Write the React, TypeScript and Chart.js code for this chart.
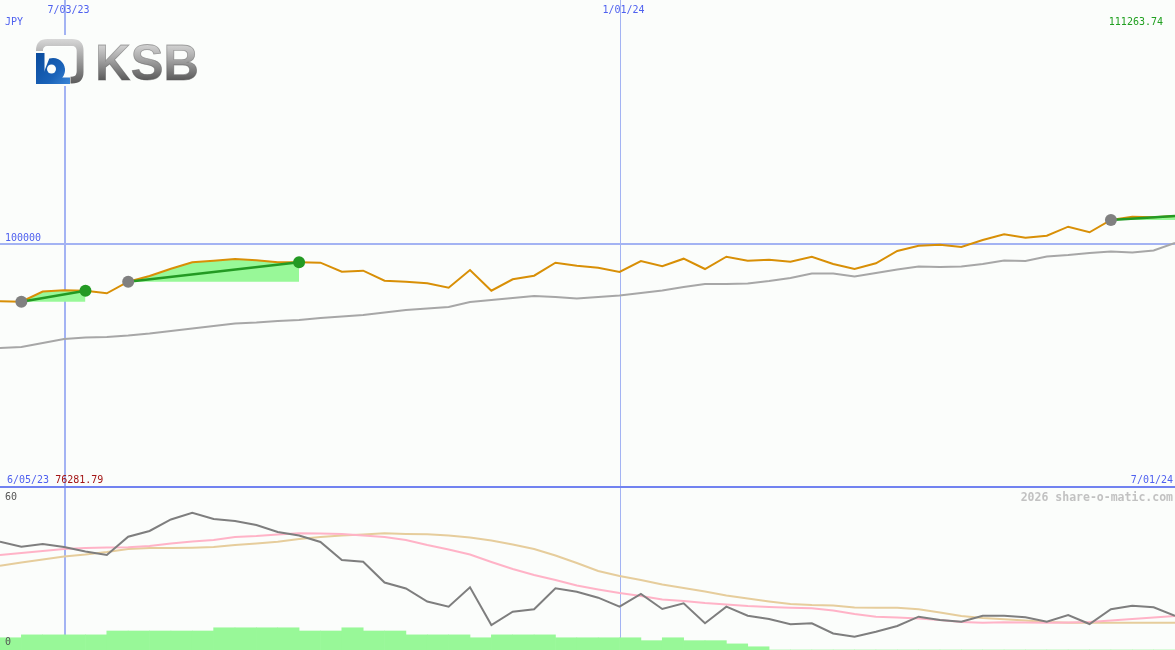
import React, { useEffect, useRef } from 'react';
import { Chart, registerables } from 'chart.js';

Chart.register(...registerables);

// ---------- text / axis data ----------
const CURRENCY = 'JPY';
const START_DATE = '6/05/23';
const END_DATE = '7/01/24';
const DATE_GRID_POS = [3.04, 29.02]; // in week units
const DATE_GRID_LABELS = ['7/03/23', '1/01/24'];
const PRICE_GRID = [100000];
const PRICE_MIN = 0;
const PRICE_MAX = 200000;
const IND_MIN = 0;
const IND_MAX = 60;
const IND_TICKS = [60, 0];
const VOL_MAX = 50;
const WATERMARK = '2026 share-o-matic.com';
const LOGO_TEXT = 'KSB';

// ---------- series data (weekly) ----------
const price = [
  76281.79, 76099, 80288, 80781, 80616, 79549, 84313, 86653, 89652, 92280,
  92937, 93635, 93101, 92280, 92280, 92116, 88419, 88830, 84723, 84313,
  83654, 81848, 89118, 80616, 85298, 86777, 92116, 90884, 90062, 88296,
  92814, 90637, 93758, 89528, 94580, 92937, 93348, 92526, 94580, 91582,
  89528, 91869, 96920, 99097, 99508, 98563, 101438, 103779, 102383, 103204,
  106900, 104600, 109652, 111006, 110760, 111263.74,
];
const average = [
  57085, 57495, 59138, 60781, 61397, 61602, 62218, 63039, 64066, 65093,
  66119, 67146, 67557, 68173, 68584, 69405, 70021, 70637, 71664, 72690,
  73306, 73922, 75976, 76797, 77619, 78440, 78029, 77413, 78029, 78645,
  79672, 80699, 82136, 83368, 83368, 83573, 84600, 85832, 87680, 87680,
  86448, 87886, 89323, 90555, 90350, 90555, 91582, 93019, 92814, 94662,
  95278, 96099, 96715, 96304, 97126, 100206,
];
const trendStart = [1, 6, 52];
const trendEnd = [4, 14, 55];

const oscillator = [
  40.36, 38.5, 39.5, 38.39, 36.71, 35.41, 42.23, 44.35, 48.64, 51.17,
  48.82, 48.08, 46.59, 43.98, 42.67, 40.25, 33.54, 32.91, 25.16, 22.92,
  18.08, 16.14, 23.37, 9.32, 14.27, 15.17, 23.0, 21.73, 19.49, 16.14,
  20.87, 15.28, 17.4, 9.95, 16.14, 12.78, 11.55, 9.58, 9.95, 6.15,
  4.96, 6.82, 8.94, 12.41, 11.18, 10.55, 12.78, 12.78, 12.19, 10.55,
  13.04, 9.69, 15.17, 16.51, 15.91, 12.78,
];
const oscFast = [
  35.41, 36.15, 36.9, 37.64, 38.01, 38.2, 38.28, 38.76, 39.69, 40.44,
  41.0, 42.11, 42.49, 43.05, 43.49, 43.42, 43.23, 42.67, 42.11, 41.0,
  39.13, 37.46, 35.59, 32.8, 30.19, 27.95, 26.09, 24.04, 22.55, 21.24,
  20.13, 18.82, 18.26, 17.52, 16.96, 16.4, 16.03, 15.76, 15.54, 14.72,
  13.42, 12.41, 12.11, 11.74, 11.18, 10.44, 10.17, 10.32, 10.25, 10.17,
  10.25, 10.44, 10.99, 11.55, 12.11, 12.67,
];
const oscSlow = [
  31.42, 32.61, 33.73, 34.85, 35.59, 36.52, 37.64, 38.01, 38.01, 38.13,
  38.39, 39.13, 39.69, 40.36, 41.37, 42.11, 42.67, 43.05, 43.49, 43.23,
  43.12, 42.67, 41.93, 40.81, 39.32, 37.64, 35.22, 32.42, 29.44, 27.58,
  26.09, 24.41, 23.11, 21.8, 20.31, 19.19, 18.08, 17.14, 16.77, 16.58,
  15.84, 15.76, 15.76, 15.17, 13.98, 12.67, 11.93, 11.44, 10.99, 10.44,
  10.17, 10.17, 10.17, 10.17, 10.17, 10.17,
];
const volume = [
  3.8, 4.7, 4.7, 4.7, 4.7, 5.9, 5.9, 5.9, 5.9, 5.9,
  6.9, 6.9, 6.9, 6.9, 5.9, 5.9, 6.9, 5.9, 5.9, 4.7,
  4.7, 4.7, 3.8, 4.7, 4.7, 4.7, 3.8, 3.8, 3.8, 3.8,
  2.9, 3.8, 2.9, 2.9, 1.9, 1.0, 0, 0, 0, 0,
  0, 0, 0, 0, 0, 0, 0, 0, 0, 0,
  0, 0, 0, 0, 0,
];

// ---------- styles ----------
const W = 1175;
const TOP_H = 489;
const BOT_H = 161;
const BG = '#fbfdfb';
const GRID = '#a3b3f3';
const SEP = '#7182f0';
const GRID_W = [2, 1];
const BLUE_TXT = '#4f61ef';
const MONO = '"DejaVu Sans Mono", monospace';

const pts = (arr: number[]) => arr.map((v, i) => ({ x: i, y: v }));

function roundRect(ctx: CanvasRenderingContext2D, x: number, y: number, w: number, h: number, r: number) {
  ctx.beginPath();
  ctx.moveTo(x + r, y);
  ctx.lineTo(x + w - r, y);
  ctx.quadraticCurveTo(x + w, y, x + w, y + r);
  ctx.lineTo(x + w, y + h - r);
  ctx.quadraticCurveTo(x + w, y + h, x + w - r, y + h);
  ctx.lineTo(x + r, y + h);
  ctx.quadraticCurveTo(x, y + h, x, y + h - r);
  ctx.lineTo(x, y + r);
  ctx.quadraticCurveTo(x, y, x + r, y);
  ctx.closePath();
}

function drawLogo(ctx: CanvasRenderingContext2D) {
  ctx.save();
  ctx.fillStyle = BG;
  ctx.fillRect(33, 35, 168, 51);
  // frame
  const g = ctx.createLinearGradient(0, 39, 0, 84);
  g.addColorStop(0, '#d8d8d8');
  g.addColorStop(0.5, '#9a9a9a');
  g.addColorStop(1, '#5a5a5a');
  ctx.strokeStyle = g;
  ctx.lineWidth = 7;
  roundRect(ctx, 39.5, 42.5, 40.5, 37.5, 8);
  ctx.stroke();
  ctx.strokeStyle = 'rgba(255,255,255,0.75)';
  ctx.lineWidth = 1;
  roundRect(ctx, 43.5, 46.5, 32.5, 29.5, 5);
  ctx.stroke();
  // clear bottom-left for the "b"
  ctx.fillStyle = BG;
  ctx.fillRect(34, 51, 36.5, 35);
  // blue b
  const b = ctx.createLinearGradient(36, 55, 70, 84);
  b.addColorStop(0, '#0a4c9e');
  b.addColorStop(0.6, '#1a62b8');
  b.addColorStop(1, '#3a86d6');
  ctx.fillStyle = b;
  ctx.fillRect(36, 53, 8.5, 31);
  ctx.beginPath();
  ctx.arc(53, 70, 12, -Math.PI * 0.6, Math.PI * 0.5);
  ctx.lineTo(40, 82);
  ctx.closePath();
  ctx.fill();
  ctx.fillRect(36, 77.5, 34, 6.5);
  ctx.fillStyle = BG;
  ctx.beginPath();
  ctx.arc(51.5, 69, 4.5, 0, Math.PI * 2);
  ctx.fill();
  // KSB letters
  ctx.font = 'bold 50px "Liberation Sans", Arial, sans-serif';
  const m = ctx.measureText(LOGO_TEXT);
  const ink = m.actualBoundingBoxRight + m.actualBoundingBoxLeft;
  const sx = 98.4 / ink;
  ctx.translate(98.3 + m.actualBoundingBoxLeft * sx, 79.5);
  ctx.scale(sx, 1);
  const tg = ctx.createLinearGradient(0, -37, 0, 0);
  tg.addColorStop(0, '#dadada');
  tg.addColorStop(0.45, '#a6a6a6');
  tg.addColorStop(1, '#5c5c5c');
  ctx.fillStyle = tg;
  ctx.textBaseline = 'alphabetic';
  ctx.fillText(LOGO_TEXT, 0, 0);
  ctx.strokeStyle = 'rgba(90,90,90,0.5)';
  ctx.lineWidth = 0.8;
  ctx.strokeText(LOGO_TEXT, 0, 0);
  ctx.restore();
}

const bgPlugin = {
  id: 'bgFill',
  beforeDraw(chart: any) {
    const { ctx, width, height } = chart;
    ctx.save();
    ctx.fillStyle = BG;
    ctx.fillRect(0, 0, width, height);
    ctx.restore();
  },
};

const topGridPlugin = {
  id: 'topGrid',
  beforeDatasetsDraw(chart: any) {
    const { ctx, width, scales } = chart;
    const { x, y } = scales;
    ctx.save();
    ctx.fillStyle = GRID;
    PRICE_GRID.forEach((v) => {
      const py = Math.round(y.getPixelForValue(v));
      ctx.fillRect(0, py - 1, width, 2);
    });
    DATE_GRID_POS.forEach((v, k) => {
      const px = Math.round(x.getPixelForValue(v));
      const w = GRID_W[k];
      ctx.fillRect(px - Math.floor(w / 2), 0, w, chart.height);
    });
    ctx.restore();
  },
  afterDraw(chart: any) {
    const { ctx, width, scales } = chart;
    const { x, y } = scales;
    ctx.save();
    drawLogo(ctx);
    ctx.font = '10px ' + MONO;
    ctx.textBaseline = 'alphabetic';
    ctx.fillStyle = BLUE_TXT;
    ctx.textAlign = 'center';
    DATE_GRID_POS.forEach((v, k) => {
      const px = Math.round(x.getPixelForValue(v));
      ctx.fillText(DATE_GRID_LABELS[k], px + 3.5, 12.5);
    });
    ctx.textAlign = 'left';
    ctx.fillText(CURRENCY, 5, 25);
    PRICE_GRID.forEach((v) => {
      const py = Math.round(y.getPixelForValue(v));
      ctx.fillText(String(v), 5, py - 3);
    });
    ctx.fillText(START_DATE, 7, 482.5);
    const sw = ctx.measureText(START_DATE + ' ').width;
    ctx.fillStyle = '#a31515';
    ctx.fillText(price[0].toFixed(2), 7 + sw, 482.5);
    ctx.textAlign = 'right';
    ctx.fillStyle = BLUE_TXT;
    ctx.fillText(END_DATE, 1173, 482.5);
    ctx.fillStyle = '#20a020';
    ctx.fillText(price[price.length - 1].toFixed(2), 1163, 25);
    // separator
    ctx.fillStyle = SEP;
    ctx.fillRect(0, 486, width, 2);
    ctx.restore();
  },
};

const botPlugin = {
  id: 'botGrid',
  beforeDatasetsDraw(chart: any) {
    const { ctx, scales } = chart;
    const { x } = scales;
    ctx.save();
    ctx.fillStyle = GRID;
    DATE_GRID_POS.forEach((v, k) => {
      const px = Math.round(x.getPixelForValue(v));
      const w = GRID_W[k];
      ctx.fillRect(px - Math.floor(w / 2), 0, w, chart.height);
    });
    ctx.restore();
  },
  afterDraw(chart: any) {
    const { ctx } = chart;
    ctx.save();
    ctx.font = '10px ' + MONO;
    ctx.fillStyle = '#555555';
    ctx.textAlign = 'left';
    ctx.textBaseline = 'alphabetic';
    ctx.fillText(String(IND_TICKS[0]), 5, 10.5);
    ctx.fillText(String(IND_TICKS[1]), 5, 156);
    ctx.font = 'bold 11.5px ' + MONO;
    ctx.fillStyle = '#c2c2c2';
    ctx.textAlign = 'right';
    ctx.fillText(WATERMARK, 1173, 11.5);
    ctx.restore();
  },
};

export default function App() {
  const topRef = useRef<HTMLCanvasElement>(null);
  const botRef = useRef<HTMLCanvasElement>(null);

  useEffect(() => {
    const last = price.length - 1;
    const topDatasets: any[] = [];
    trendStart.forEach((s, k) => {
      const e = trendEnd[k];
      topDatasets.push({
        data: price.slice(s, e + 1).map((v, j) => ({ x: s + j, y: v })),
        borderWidth: 0,
        borderColor: 'rgba(0,0,0,0)',
        pointRadius: 0,
        fill: { value: price[s] },
        backgroundColor: '#98f898',
        order: 10,
      });
    });
    topDatasets.push({
      data: pts(average),
      borderColor: '#a7a7a7',
      borderWidth: 2,
      pointRadius: 0,
      fill: false,
      order: 9,
    });
    topDatasets.push({
      data: pts(price),
      borderColor: '#d88f06',
      borderWidth: 2,
      pointRadius: 0,
      fill: false,
      order: 8,
    });
    trendStart.forEach((s, k) => {
      const e = trendEnd[k];
      topDatasets.push({
        data: [
          { x: s, y: price[s] },
          { x: e, y: price[e] },
        ],
        borderColor: '#239a23',
        borderWidth: 2.5,
        pointRadius: 0,
        fill: false,
        order: 7,
      });
    });
    topDatasets.push({
      data: trendStart.map((s) => ({ x: s, y: price[s] })),
      showLine: false,
      pointRadius: 6,
      pointBorderWidth: 0,
      pointBackgroundColor: '#808080',
      order: 6,
    });
    topDatasets.push({
      data: trendEnd.filter((e) => e < last).map((e) => ({ x: e, y: price[e] })),
      showLine: false,
      pointRadius: 6,
      pointBorderWidth: 0,
      pointBackgroundColor: '#239a23',
      order: 5,
    });

    const top = new Chart(topRef.current as HTMLCanvasElement, {
      type: 'line',
      data: { datasets: topDatasets },
      options: {
        responsive: false,
        animation: false,
        events: [],
        devicePixelRatio: 1,
        layout: { autoPadding: false, padding: { left: 0, right: 0, top: 0, bottom: 2 } },
        plugins: { legend: { display: false }, tooltip: { enabled: false } },
        elements: { line: { tension: 0 } },
        scales: {
          x: { type: 'linear', min: 0, max: last, display: false, offset: false },
          y: { type: 'linear', min: PRICE_MIN, max: PRICE_MAX, display: false },
        },
      } as any,
      plugins: [bgPlugin, topGridPlugin],
    });

    const bot = new Chart(botRef.current as HTMLCanvasElement, {
      type: 'line',
      data: {
        datasets: [
          {
            type: 'bar',
            data: volume.map((v, i) => ({ x: i + 0.5, y: v })),
            backgroundColor: '#98f898',
            borderWidth: 0,
            barPercentage: 1,
            categoryPercentage: 1,
            yAxisID: 'yv',
            order: 10,
          } as any,
          {
            data: pts(oscSlow),
            borderColor: '#e6cd9c',
            borderWidth: 2,
            pointRadius: 0,
            fill: false,
            order: 9,
          },
          {
            data: pts(oscFast),
            borderColor: '#ffb3c7',
            borderWidth: 2,
            pointRadius: 0,
            fill: false,
            order: 8,
          },
          {
            data: pts(oscillator),
            borderColor: '#7e7e7e',
            borderWidth: 2,
            pointRadius: 0,
            fill: false,
            order: 7,
          },
        ],
      },
      options: {
        responsive: false,
        animation: false,
        events: [],
        devicePixelRatio: 1,
        layout: { autoPadding: false, padding: 0 },
        plugins: { legend: { display: false }, tooltip: { enabled: false } },
        elements: { line: { tension: 0 } },
        scales: {
          x: { type: 'linear', min: 0, max: last, display: false, offset: false },
          y: { type: 'linear', min: IND_MIN, max: IND_MAX, display: false },
          yv: { type: 'linear', min: 0, max: VOL_MAX, display: false },
        },
      } as any,
      plugins: [bgPlugin, botPlugin],
    });

    return () => {
      top.destroy();
      bot.destroy();
    };
  }, []);

  return (
    <div
      style={{
        position: 'fixed',
        left: 0,
        top: 0,
        width: W,
        height: TOP_H + BOT_H,
        background: BG,
        overflow: 'hidden',
      }}
    >
      <canvas ref={topRef} width={W} height={TOP_H} style={{ display: 'block', width: W, height: TOP_H }} />
      <canvas ref={botRef} width={W} height={BOT_H} style={{ display: 'block', width: W, height: BOT_H }} />
    </div>
  );
}
